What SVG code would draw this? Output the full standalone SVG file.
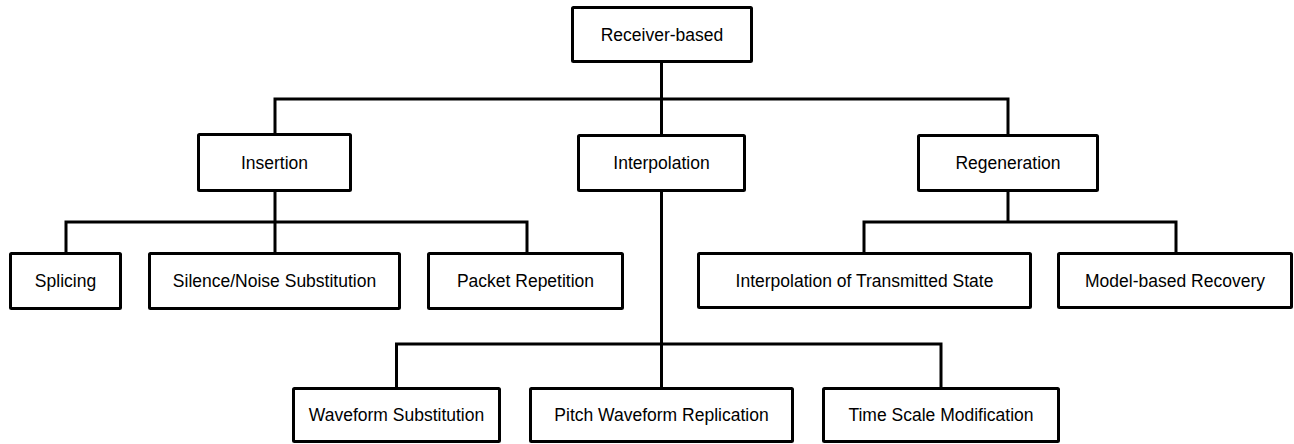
<svg xmlns="http://www.w3.org/2000/svg" width="1294" height="444" viewBox="0 0 1294 444">
<style>
.box{fill:#fff;stroke:#000;stroke-width:3;}
.lbl{font-family:"Liberation Sans",Arial,sans-serif;font-size:17.5px;fill:#000;text-anchor:middle;}
.conn{fill:none;stroke:#000;stroke-width:3;stroke-linejoin:miter;}
</style>
<rect width="1294" height="444" fill="#fff"/>
<g id="connectors">
<path class="conn" d="M661.5 63 V134"/>
<path class="conn" d="M275 134 V99 H1008 V134"/>
<path class="conn" d="M275 192 V252"/>
<path class="conn" d="M66 252 V222 H527 V252"/>
<path class="conn" d="M661.5 192 V387"/>
<path class="conn" d="M396.5 387 V344 H941 V387"/>
<path class="conn" d="M1008 192 V222"/>
<path class="conn" d="M864 252 V222 H1176 V252"/>
</g>
<g id="receiver-based"><rect class="box" x="572.5" y="7.5" width="179" height="54" rx="1"/><text class="lbl" x="662" y="41">Receiver-based</text></g>
<g id="insertion"><rect class="box" x="198.5" y="134.5" width="152" height="56" rx="1"/><text class="lbl" x="274.5" y="169">Insertion</text></g>
<g id="interpolation"><rect class="box" x="578.5" y="135.5" width="166" height="55" rx="1"/><text class="lbl" x="661.5" y="169">Interpolation</text></g>
<g id="regeneration"><rect class="box" x="918.5" y="135.5" width="179" height="55" rx="1"/><text class="lbl" x="1008" y="169">Regeneration</text></g>
<g id="splicing"><rect class="box" x="10.5" y="253.5" width="110" height="55" rx="1"/><text class="lbl" x="65.5" y="287">Splicing</text></g>
<g id="silence-noise"><rect class="box" x="149.5" y="253.5" width="250" height="55" rx="1"/><text class="lbl" x="274.5" y="287">Silence/Noise Substitution</text></g>
<g id="packet-repetition"><rect class="box" x="428.5" y="253.5" width="194" height="55" rx="1"/><text class="lbl" x="525.5" y="287">Packet Repetition</text></g>
<g id="interp-transmitted"><rect class="box" x="698.5" y="253.5" width="332" height="54" rx="1"/><text class="lbl" x="864.5" y="287">Interpolation of Transmitted State</text></g>
<g id="model-based"><rect class="box" x="1058.5" y="253.5" width="233" height="54" rx="1"/><text class="lbl" x="1175" y="287">Model-based Recovery</text></g>
<g id="waveform-substitution"><rect class="box" x="293.5" y="388.5" width="206" height="53" rx="1"/><text class="lbl" x="396.5" y="421">Waveform Substitution</text></g>
<g id="pitch-waveform"><rect class="box" x="530.5" y="388.5" width="262" height="53" rx="1"/><text class="lbl" x="661.5" y="421">Pitch Waveform Replication</text></g>
<g id="time-scale"><rect class="box" x="823.5" y="388.5" width="235" height="53" rx="1"/><text class="lbl" x="941" y="421">Time Scale Modification</text></g>
</svg>
